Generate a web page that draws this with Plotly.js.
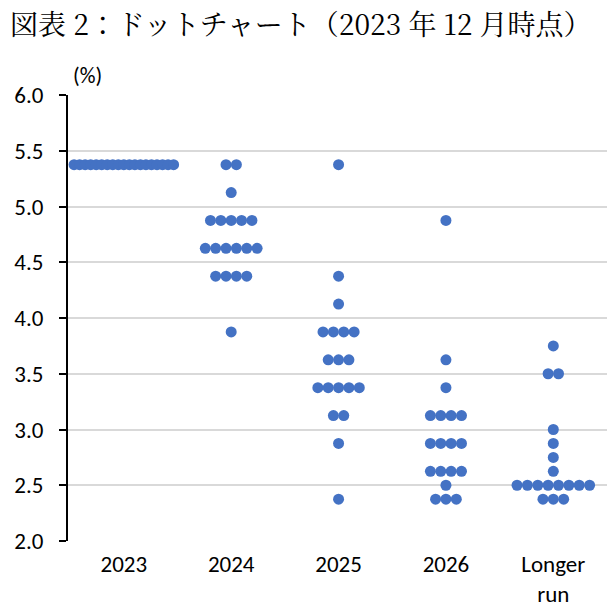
<!DOCTYPE html>
<html>
<head>
<meta charset="utf-8">
<script src="https://cdn.plot.ly/plotly-3.0.1.min.js"></script>
<style>html,body{margin:0;padding:0;background:#fff;}#chart{width:610px;height:616px;}</style>
</head>
<body>
<div id="chart"></div>
<script>
// Category labels
const categories = ['2023', '2024', '2025', '2026', 'Longer<br>run'];

// Federal funds rate projections (midpoint, %) and number of participants at each level
const rates2023 = [5.375];
const counts2023 = [19];

const rates2024 = [5.375, 5.125, 4.875, 4.625, 4.375, 3.875];
const counts2024 = [2, 1, 5, 6, 4, 1];

const rates2025 = [5.375, 4.375, 4.125, 3.875, 3.625, 3.375, 3.125, 2.875, 2.375];
const counts2025 = [1, 1, 1, 4, 3, 5, 2, 1, 1];

const rates2026 = [4.875, 3.625, 3.375, 3.125, 2.875, 2.625, 2.5, 2.375];
const counts2026 = [1, 1, 1, 4, 4, 4, 1, 3];

const ratesLonger = [3.75, 3.5, 3.0, 2.875, 2.75, 2.625, 2.5, 2.375];
const countsLonger = [1, 2, 1, 1, 1, 1, 8, 3];

const yTicks = [2.0, 2.5, 3.0, 3.5, 4.0, 4.5, 5.0, 5.5, 6.0];

const groups = [
  [rates2023, counts2023],
  [rates2024, counts2024],
  [rates2025, counts2025],
  [rates2026, counts2026],
  [ratesLonger, countsLonger]
];
// horizontal spacing between side-by-side dots (category units)
const dotStep = [0.0515, 0.0965, 0.0965, 0.0965, 0.0965];

const xs = [], ys = [];
groups.forEach((g, ci) => {
  const [r, c] = g;
  r.forEach((v, k) => {
    const n = c[k];
    for (let j = 0; j < n; j++) {
      xs.push(ci + (j - (n - 1) / 2) * dotStep[ci]);
      ys.push(v);
    }
  });
});

const sansFont = 'Carlito, Lato, "Open Sans", "Noto Sans", sans-serif';

const data = [{
  type: 'scatter',
  mode: 'markers',
  x: xs,
  y: ys,
  marker: {color: '#4472C4', size: 11, line: {width: 0}},
  hoverinfo: 'y',
  cliponaxis: false
}];

const layout = {
  width: 610,
  height: 616,
  margin: {l: 68, r: 3, t: 95, b: 75},
  paper_bgcolor: '#ffffff',
  plot_bgcolor: '#ffffff',
  showlegend: false,
  title: {
    text: '図表 2：ドットチャート（2023 年 12 月時点）',
    font: {family: '"Noto Serif CJK JP", "Liberation Serif", "Noto Sans CJK JP", serif', size: 28, color: '#000'},
    x: 10 / 610, xref: 'container', xanchor: 'left',
    y: 1 - 25 / 616, yref: 'container', yanchor: 'middle'
  },
  xaxis: {
    range: [-0.52, 4.5],
    tickvals: [0, 1, 2, 3, 4],
    ticktext: categories,
    showgrid: false,
    zeroline: false,
    showline: false,
    ticks: '',
    ticklabelstandoff: 7,
    tickfont: {family: sansFont, size: 23, color: '#000'},
    fixedrange: true
  },
  yaxis: {
    range: [2, 6],
    tickvals: yTicks,
    ticktext: yTicks.map(v => v.toFixed(1)),
    showgrid: true,
    gridcolor: '#d9d9d9',
    gridwidth: 2,
    zeroline: false,
    showline: true,
    linecolor: '#000',
    linewidth: 2,
    ticks: 'outside',
    ticklen: 7,
    tickwidth: 2,
    tickcolor: '#000',
    ticklabelstandoff: 11,
    tickfont: {family: sansFont, size: 23, color: '#000'},
    fixedrange: true
  },
  annotations: [{
    text: '(%)',
    xref: 'paper', yref: 'paper',
    x: (71 - 68) / 539, y: 1 + (95 - 75) / 446,
    xanchor: 'left', yanchor: 'middle',
    showarrow: false,
    font: {family: sansFont, size: 22, color: '#000'}
  }]
};

Plotly.newPlot('chart', data, layout, {displayModeBar: false, staticPlot: true});
</script>
</body>
</html>
